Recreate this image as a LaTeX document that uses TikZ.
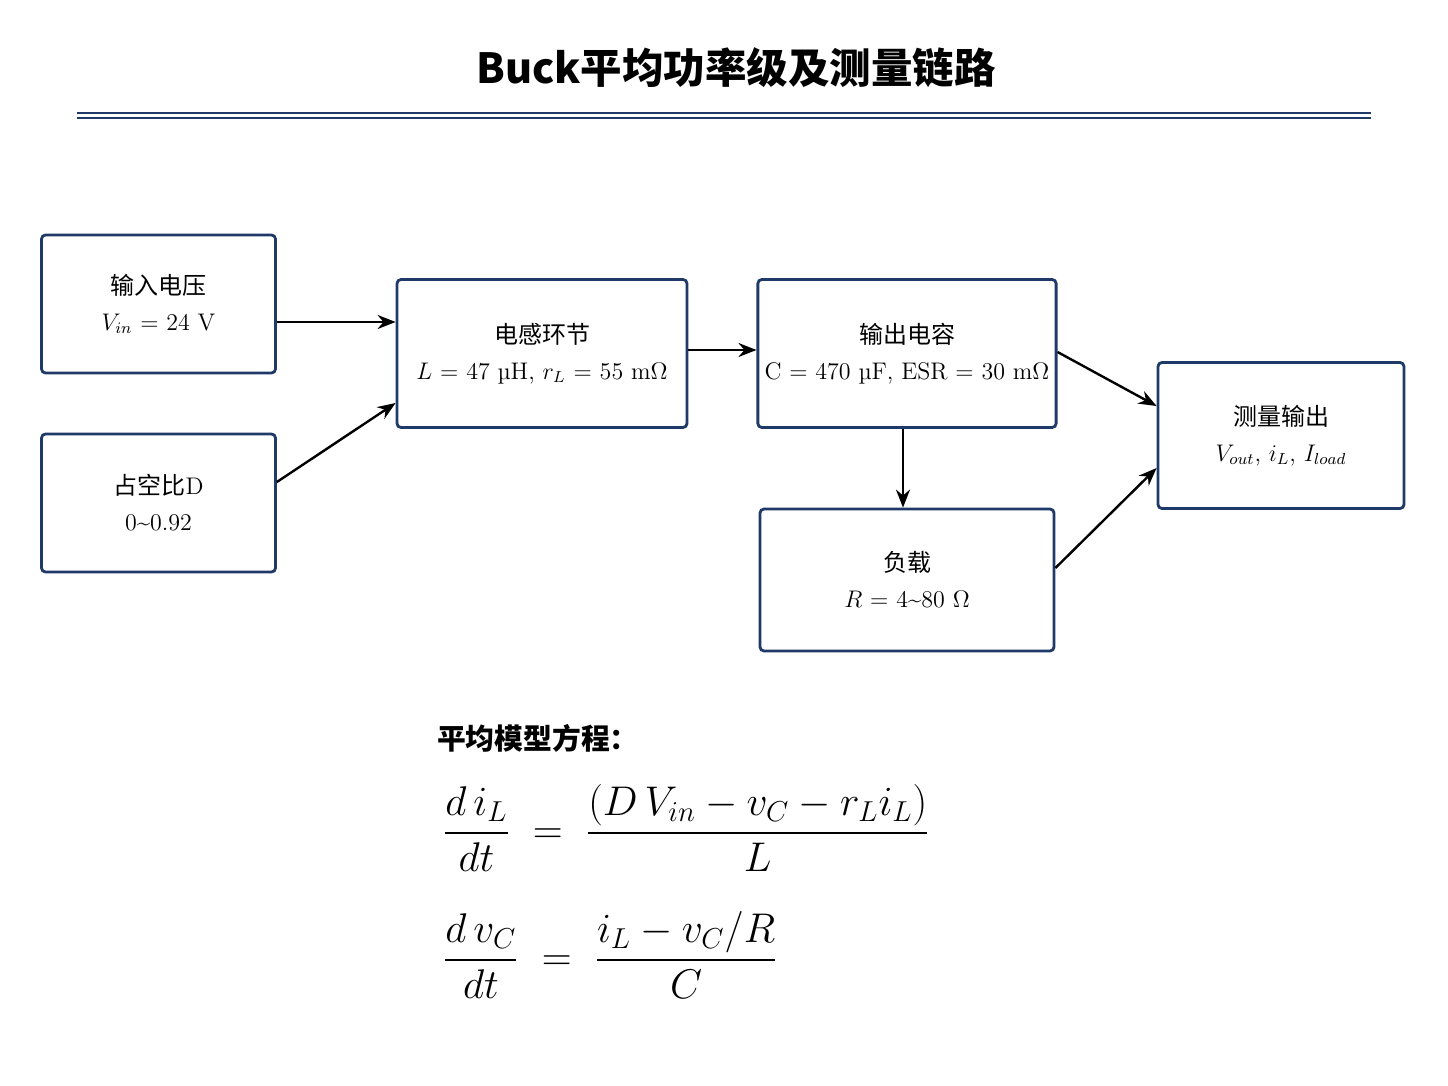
\documentclass[tikz,border=0pt]{standalone}
\usepackage{fontspec}
\usepackage{amsmath}
\newfontfamily\cjk{Noto Sans CJK SC}
\usetikzlibrary{arrows.meta, positioning}
\definecolor{navy}{HTML}{1F3A68}
\tikzset{
  blk/.style={draw=navy, line width=1.4pt, rounded corners=2pt, align=center, font=\large},
  link/.style={-{Stealth[length=9pt,width=7pt]}, line width=1.2pt}
}
\begin{document}
\begin{tikzpicture}[x=0.5pt, y=-0.5pt]
		\useasboundingbox (0,0) rectangle (1448,1086);
			% title
			\node[font=\cjk\bfseries\huge] (title) at (736,68) {Buck平均功率级及测量链路};
			\draw[navy, line width=1.2pt] (77,113) -- (1371,113);
			\draw[navy, line width=1.2pt] (77,118) -- (1371,118);

			% blocks
			\node[blk, minimum width=117pt, minimum height=69pt] (vin) at (158.5,304) {{\cjk 输入电压}\\[4pt]$V_{in}$ = 24 V};
			\node[blk, minimum width=117pt, minimum height=69pt] (duty) at (158.5,503) {{\cjk 占空比}D\\[4pt]0\textasciitilde0.92};
			\node[blk, minimum width=145pt, minimum height=74pt] (ind) at (542,353.5) {{\cjk 电感环节}\\[4pt]$L$ = 47 \textmu H, $r_L$ = 55 m$\Omega$};
			\node[blk, minimum width=147pt, minimum height=74pt] (cap) at (907,353.5) {{\cjk 输出电容}\\[4pt]C = 470 \textmu F, ESR = 30 m$\Omega$};
			\node[blk, minimum width=147pt, minimum height=71pt] (load) at (907,580) {{\cjk 负载}\\[4pt]$R$ = 4\textasciitilde80 $\Omega$};
			\node[blk, minimum width=123pt, minimum height=73pt] (meas) at (1281,435.5) {{\cjk 测量输出}\\[4pt]$V_{out}$, $i_L$, $I_{load}$};

			% connectors
			\draw[link] (vin.east |- 0,322) -- (ind.west |- 0,322);
			\draw[link] (duty.east |- 0,482) -- (ind.west |- 0,403);
			\draw[link] (ind.east |- 0,350) -- (cap.west |- 0,350);
			\draw[link] (cap.east |- 0,352) -- (meas.west |- 0,406);
			\draw[link] (cap.south -| 903,0) -- (load.north -| 903,0);
			\draw[link] (load.east |- 0,568) -- (meas.west |- 0,468);

			% equations
			\node[anchor=west, font=\cjk\bfseries\Large] (eqtitle) at (430,738) {平均模型方程：};
			\node[anchor=west, font=\huge] (eq1) at (436,828) {$\displaystyle \frac{d\,i_L}{dt} \;=\; \frac{(D\,V_{in} - v_C - r_L i_L)}{L}$};
			\node[anchor=west, font=\huge] (eq2) at (436,955) {$\displaystyle \frac{d\,v_C}{dt} \;=\; \frac{i_L - v_C/R}{C}$};
	\end{tikzpicture}
\end{document}
